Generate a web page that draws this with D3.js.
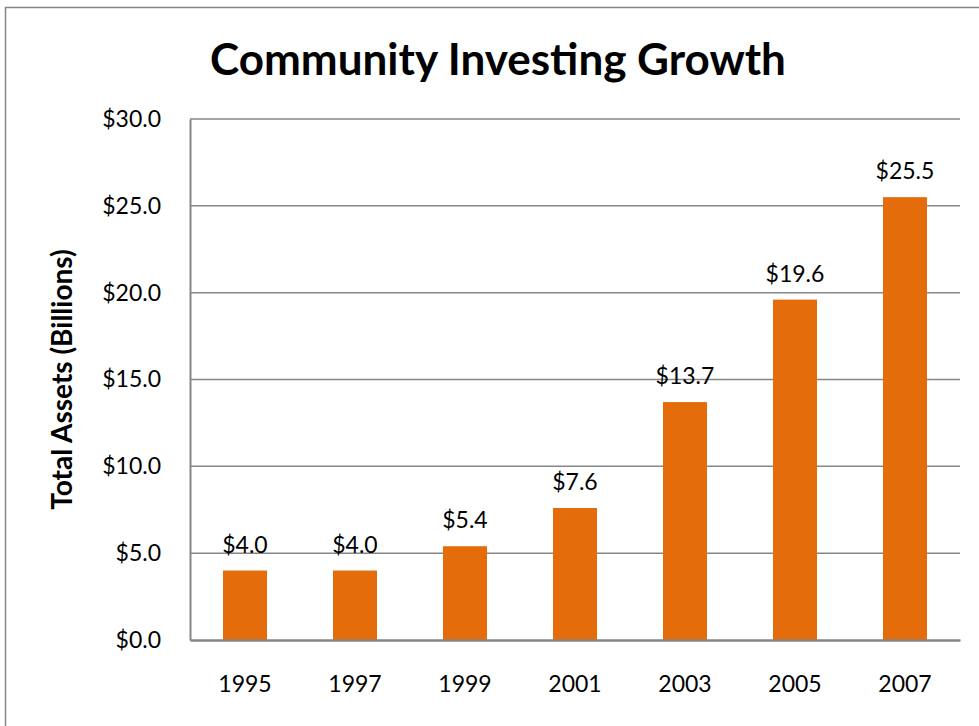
<!DOCTYPE html>
<html>
<head>
<meta charset="utf-8">
<script src="https://cdn.jsdelivr.net/npm/d3@7"></script>
<style>
    body { margin: 0; background: #fff; }
    svg { display: block; }
    text { font-family: Lato, "Open Sans", sans-serif; fill: #000; }
</style>
</head>
<body>
<div id="chart"></div>
<script>
// data
const years = ["1995", "1997", "1999", "2001", "2003", "2005", "2007"];
const assets = [4.0, 4.0, 5.4, 7.6, 13.7, 19.6, 25.5];
const yTicks = [0, 5, 10, 15, 20, 25, 30];

const width = 979, height = 726;
const margin = { top: 119, right: 19, bottom: 86, left: 190 };

const svg = d3.select("#chart").append("svg")
    .attr("width", width)
    .attr("height", height);

// outer chart frame
svg.append("rect")
    .attr("x", 5.5).attr("y", 7.5)
    .attr("width", width + 10).attr("height", height + 10)
    .attr("fill", "none")
    .attr("stroke", "#868686")
    .attr("stroke-width", 1.5);

const x = d3.scaleBand()
    .domain(years)
    .range([margin.left, width - margin.right])
    .paddingInner(0.6)
    .paddingOuter(0.3);

const y = d3.scaleLinear()
    .domain([0, 30])
    .range([height - margin.bottom, margin.top]);

// gridlines
svg.append("g")
    .selectAll("line")
    .data(yTicks.slice(1))
    .join("line")
    .attr("x1", margin.left).attr("x2", width - margin.right)
    .attr("y1", d => y(d)).attr("y2", d => y(d))
    .attr("stroke", "#868686")
    .attr("stroke-width", 1.5);

// y axis
const yAxis = d3.axisLeft(y)
    .tickValues(yTicks)
    .tickSize(0)
    .tickPadding(29)
    .tickFormat(d => "$" + d.toFixed(1));

svg.append("g")
    .attr("transform", `translate(${margin.left},0)`)
    .call(yAxis)
    .call(g => g.select(".domain").attr("stroke", "#868686").attr("stroke-width", 2))
    .call(g => g.selectAll("text")
        .attr("font-size", 23)
        .attr("font-family", "Lato, sans-serif")
        .attr("fill", "#000"));

// bars
svg.append("g")
    .selectAll("rect")
    .data(assets)
    .join("rect")
    .attr("x", (d, i) => x(years[i]))
    .attr("y", d => y(d))
    .attr("width", x.bandwidth())
    .attr("height", d => y(0) - y(d))
    .attr("fill", "#E46C0A");

// x axis
const xAxis = d3.axisBottom(x).tickSize(0).tickPadding(36);
svg.append("g")
    .attr("transform", `translate(0,${y(0)})`)
    .call(xAxis)
    .call(g => g.select(".domain").attr("stroke", "#868686").attr("stroke-width", 2.5))
    .call(g => g.selectAll("text")
        .attr("font-size", 23)
        .attr("font-family", "Lato, sans-serif")
        .attr("fill", "#000"));

// value labels
svg.append("g")
    .selectAll("text")
    .data(assets)
    .join("text")
    .attr("x", (d, i) => x(years[i]) + x.bandwidth() / 2)
    .attr("y", d => y(d) - 18)
    .attr("text-anchor", "middle")
    .attr("font-size", 23)
    .text(d => "$" + d.toFixed(1));

// title
svg.append("text")
    .attr("x", 498)
    .attr("y", 75)
    .attr("text-anchor", "middle")
    .attr("font-size", 44)
    .attr("font-weight", "bold")
    .text("Community Investing Growth");

// y axis title
svg.append("text")
    .attr("transform", `translate(72,${(y(0) + y(30)) / 2}) rotate(-90)`)
    .attr("text-anchor", "middle")
    .attr("font-size", 28)
    .attr("font-weight", "bold")
    .text("Total Assets (Billions)");
</script>
</body>
</html>
